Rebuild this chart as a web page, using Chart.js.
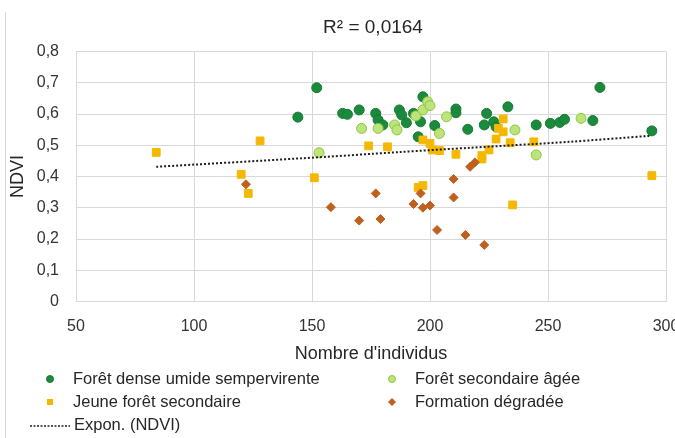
<!DOCTYPE html>
<html>
<head>
<meta charset="utf-8">
<script src="https://cdn.jsdelivr.net/npm/chart.js@4/dist/chart.umd.min.js"></script>
<style>
  html, body { margin: 0; padding: 0; background: #fff; }
  #wrap { width: 675px; height: 438px; }
</style>
</head>
<body>
<div id="wrap"><canvas id="ndvi-chart" width="675" height="438"></canvas></div>
<script>
    // Series names
    const seriesLabels = ['Forêt dense umide sempervirente', 'Forêt secondaire âgée', 'Jeune forêt secondaire', 'Formation dégradée', 'Expon. (NDVI)'];
    const chartTitle = 'R² = 0,0164';

    // Forêt dense umide sempervirente
    const denseX = [144, 152, 163, 165, 170, 177, 178, 180, 187, 188, 190, 193, 196, 197, 195, 202, 211, 211, 216, 223, 224, 227, 228, 233, 245, 251, 255, 257, 269, 272, 294];
    const denseY = [0.59, 0.684, 0.602, 0.599, 0.613, 0.602, 0.581, 0.565, 0.613, 0.597, 0.572, 0.602, 0.575, 0.655, 0.527, 0.563, 0.616, 0.604, 0.551, 0.565, 0.602, 0.575, 0.559, 0.623, 0.565, 0.57, 0.573, 0.583, 0.579, 0.685, 0.546];

    // Forêt secondaire âgée
    const agedX = [153, 171, 178, 185, 186, 194, 197, 199, 200, 204, 207, 236, 245, 264];
    const agedY = [0.476, 0.554, 0.554, 0.565, 0.549, 0.594, 0.613, 0.639, 0.627, 0.538, 0.591, 0.549, 0.469, 0.586];

    // Jeune forêt secondaire
    const youngX = [84, 120, 123, 128, 151, 174, 182, 195, 197, 197, 200, 201, 204, 211, 222, 222, 225, 228, 229, 231, 231, 234, 244, 235, 294];
    const youngY = [0.477, 0.407, 0.346, 0.514, 0.396, 0.498, 0.495, 0.365, 0.371, 0.517, 0.506, 0.485, 0.483, 0.471, 0.467, 0.456, 0.485, 0.52, 0.554, 0.584, 0.543, 0.508, 0.511, 0.309, 0.403];

    // Formation dégradée
    const degradedX = [122, 158, 170, 177, 179, 193, 196, 197, 200, 203, 210, 210, 215, 217, 219, 223];
    const degradedY = [0.375, 0.302, 0.259, 0.346, 0.264, 0.312, 0.346, 0.3, 0.307, 0.229, 0.392, 0.333, 0.213, 0.431, 0.445, 0.181];

    // Expon. (NDVI) trend line
    const trendX = [84, 145, 187, 217, 259, 293];
    const trendY = [0.431, 0.458, 0.478, 0.492, 0.511, 0.53];

    // Tick labels
    const xTickLabels = ['50', '100', '150', '200', '250', '300'];
    const yTickLabels = ['0', '0,1', '0,2', '0,3', '0,4', '0,5', '0,6', '0,7', '0,8'];

    const FONT = '"Liberation Sans", Arial, sans-serif';
    const TEXT = '#262626';

    function toPoints(xs, ys) {
        return xs.map((x, i) => ({ x: x, y: ys[i] }));
    }

    // Title, legend and the outer frame line (Excel style)
    const decorPlugin = {
        id: 'decor',
        afterDraw(chart) {
            const ctx = chart.ctx;
            const area = chart.chartArea;
            ctx.save();
            ctx.strokeStyle = '#d9d9d9';
            ctx.lineWidth = 1;
            ctx.beginPath();
            ctx.moveTo(5.5, 12);
            ctx.lineTo(5.5, 438);
            ctx.stroke();

            ctx.fillStyle = TEXT;
            ctx.font = '19px ' + FONT;
            ctx.textAlign = 'center';
            ctx.textBaseline = 'middle';
            ctx.fillText(chartTitle, (area.left + area.right) / 2 + 2, 28);

            const slots = [[50, 379], [392, 379], [50, 402], [392, 402], [50, 425]];
            ctx.font = '16.5px ' + FONT;
            ctx.textAlign = 'left';
            chart.data.datasets.forEach((ds, i) => {
                const [x, y] = slots[i];
                ctx.fillStyle = ds.backgroundColor;
                ctx.strokeStyle = ds.borderColor;
                ctx.lineWidth = 1;
                let textX = x + 23;
                if (ds.showLine) {
                    ctx.setLineDash([2, 1.5]);
                    ctx.lineWidth = 1.5;
                    ctx.beginPath();
                    ctx.moveTo(x - 20, y + 1);
                    ctx.lineTo(x + 20, y + 1);
                    ctx.stroke();
                    ctx.setLineDash([]);
                    textX = x + 24;
                } else if (ds.pointStyle === 'circle') {
                    ctx.beginPath();
                    ctx.arc(x, y, 3.5, 0, Math.PI * 2);
                    ctx.fill();
                    ctx.stroke();
                } else if (ds.pointStyle === 'rect') {
                    ctx.fillRect(x - 3, y - 3, 6, 6);
                } else {
                    ctx.beginPath();
                    ctx.moveTo(x, y - 4);
                    ctx.lineTo(x + 4, y);
                    ctx.lineTo(x, y + 4);
                    ctx.lineTo(x - 4, y);
                    ctx.closePath();
                    ctx.fill();
                }
                ctx.fillStyle = TEXT;
                ctx.fillText(ds.label, textX, y);
            });
            ctx.restore();
        }
    };

    const ctxNdvi = document.getElementById('ndvi-chart').getContext('2d');
    const ndviChart = new Chart(ctxNdvi, {
        type: 'scatter',
        data: {
            datasets: [{
                label: seriesLabels[0],
                data: toPoints(denseX, denseY),
                backgroundColor: '#1b8a3c',
                borderColor: '#177a34',
                pointStyle: 'circle',
                pointRadius: 5,
                borderWidth: 1,
                order: 4
            }, {
                label: seriesLabels[1],
                data: toPoints(agedX, agedY),
                backgroundColor: '#bde37c',
                borderColor: '#8dc63f',
                pointStyle: 'circle',
                pointRadius: 5,
                borderWidth: 1,
                order: 3
            }, {
                label: seriesLabels[2],
                data: toPoints(youngX, youngY),
                backgroundColor: '#f5b800',
                borderColor: '#f5b800',
                pointStyle: 'rect',
                pointRadius: 5.5,
                borderWidth: 1,
                order: 2
            }, {
                label: seriesLabels[3],
                data: toPoints(degradedX, degradedY),
                backgroundColor: '#c0601e',
                borderColor: '#c0601e',
                pointStyle: 'rectRot',
                pointRadius: 4.5,
                borderWidth: 1,
                order: 1
            }, {
                label: seriesLabels[4],
                data: toPoints(trendX, trendY),
                showLine: true,
                borderColor: '#1e1e1e',
                backgroundColor: '#1e1e1e',
                borderWidth: 2,
                borderDash: [2, 2],
                pointRadius: 0,
                tension: 0.3,
                order: 0
            }]
        },
        options: {
            responsive: false,
            animation: false,
            layout: { padding: { top: 51.5, left: 0, right: 9, bottom: 0 } },
            plugins: {
                legend: { display: false },
                title: { display: false },
                tooltip: { enabled: false }
            },
            scales: {
                x: {
                    type: 'linear',
                    min: 50,
                    max: 300,
                    ticks: {
                        stepSize: 50,
                        padding: 15,
                        color: '#333',
                        font: { family: FONT, size: 16 },
                        maxRotation: 0,
                        callback: (value, index) => xTickLabels[index]
                    },
                    grid: { color: '#d9d9d9', drawTicks: false },
                    border: { color: '#d9d9d9' },
                    title: {
                        display: true,
                        text: "Nombre d'individus",
                        color: TEXT,
                        font: { family: FONT, size: 18 },
                        padding: { top: 0, bottom: 73 }
                    },
                    afterFit: (scale) => {
                        scale.height = 136.5;
                        scale.paddingLeft = 0;
                        scale.paddingRight = 0;
                    }
                },
                y: {
                    min: 0,
                    max: 0.8,
                    ticks: {
                        stepSize: 0.1,
                        padding: 17,
                        color: '#333',
                        font: { family: FONT, size: 16 },
                        callback: (value, index) => yTickLabels[index]
                    },
                    grid: { color: '#d9d9d9', drawTicks: false },
                    border: { color: '#d9d9d9' },
                    title: {
                        display: true,
                        text: 'NDVI',
                        color: TEXT,
                        font: { family: FONT, size: 18 },
                        padding: { top: 7, bottom: 0 }
                    },
                    afterFit: (scale) => {
                        scale.width = 76;
                        scale.paddingTop = 0;
                        scale.paddingBottom = 0;
                    }
                }
            }
        },
        plugins: [decorPlugin]
    });
</script>
</body>
</html>
